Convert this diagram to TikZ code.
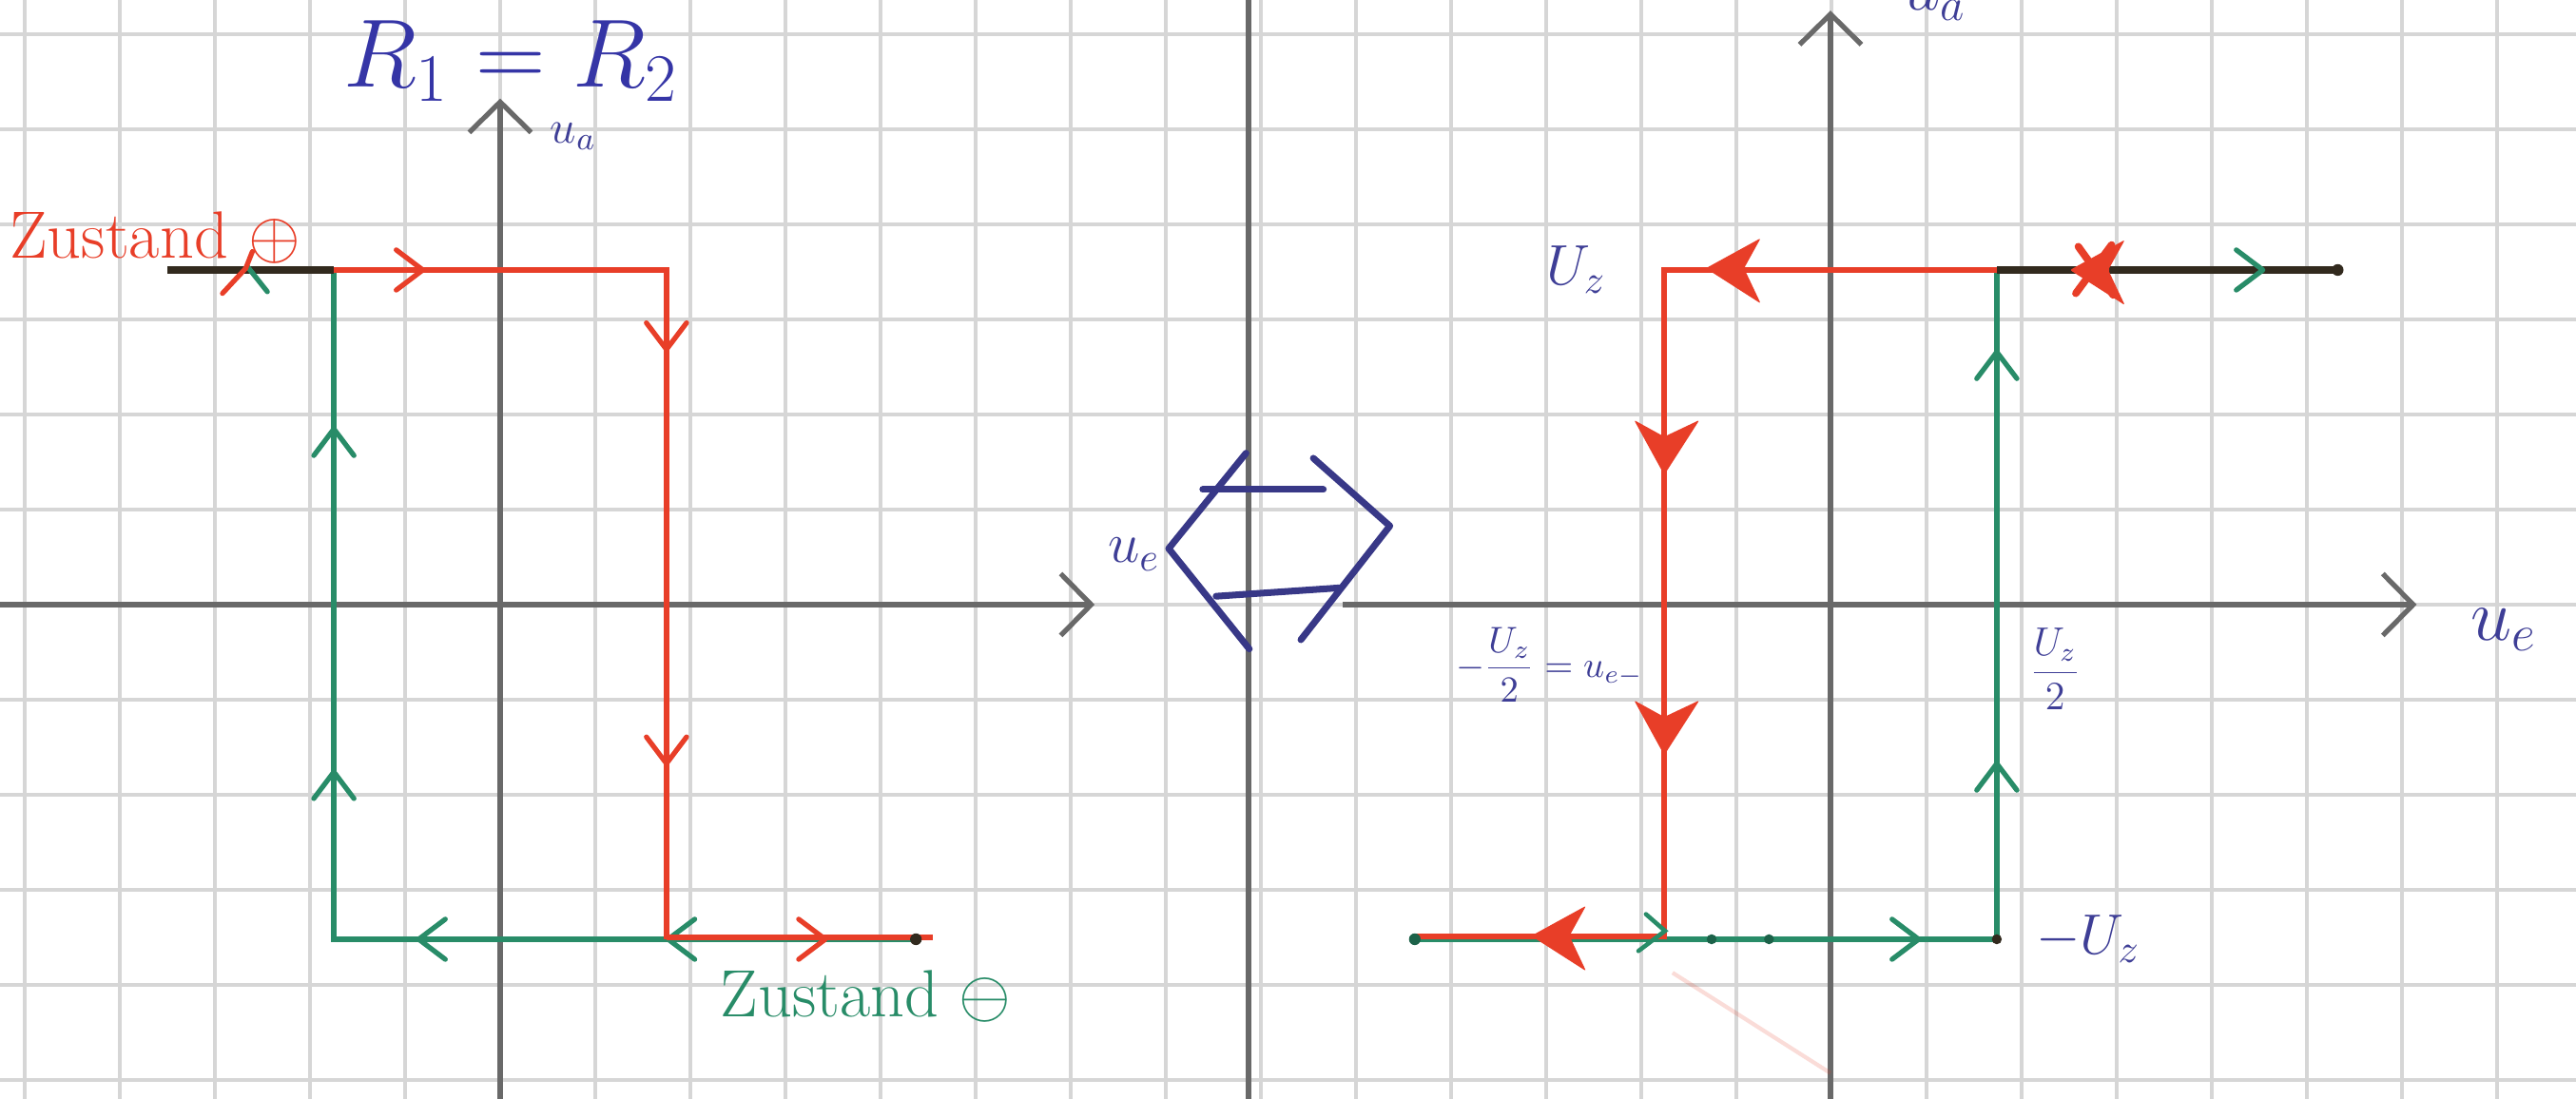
\RequirePackage{fix-cm}
\documentclass[tikz,border=0pt]{standalone}
\usepackage{amsmath}
\usetikzlibrary{arrows.meta}
\definecolor{gridc}{RGB}{214,214,214}
\definecolor{axisc}{RGB}{105,105,105}
\definecolor{redc}{RGB}{232,62,40}
\definecolor{greenc}{RGB}{40,140,104}
\definecolor{darkc}{RGB}{50,42,30}
\definecolor{bluec}{RGB}{62,62,150}
\tikzset{
  gridl/.style={draw=gridc,line width=1.1pt},
  axisl/.style={draw=axisc,line width=1.8pt},
  axarrow/.style={-{Straight Barb[length=3.2mm,width=6.5mm,line width=1.5pt]}},
  redl/.style={draw=redc,line width=1.7pt},
  greenl/.style={draw=greenc,line width=1.7pt},
  darkl/.style={draw=darkc,line width=2.1pt},
  lbl/.style={inner sep=0pt,text=bluec},
  chev/.pic={\draw[line width=1.5pt,line cap=round,line join=round] (-0.32,0.24) -- (0,0) -- (-0.32,-0.24);},
  blob/.pic={\fill[rounded corners=0.6pt] (0,0) -- (-0.66,0.42) -- (-0.46,0) -- (-0.66,-0.36) -- cycle;}
}
\begin{document}
\begin{tikzpicture}[x=0.8744cm,y=0.88cm]
\useasboundingbox (-6.0156,-5.909) rectangle (24.966,7.227);
\clip (-6.0156,-5.909) rectangle (24.966,7.227);
\fill[white] (-6.0156,-5.909) rectangle (24.966,7.227);
% grid
\draw[gridl] (-6.5,-6.5) grid (25.5,7.5);
% axes
\draw[axisl,axarrow] (-6.2,0) -- (7.15,0);
\draw[axisl,axarrow] (0,-6.2) -- (0,6.05);
\draw[axisl] (9,-6.2) -- (9,7.5);
\draw[axisl,axarrow] (10.13,0) -- (23.05,0);
\draw[axisl,axarrow] (16,-6.2) -- (16,7.1);
% ---------- left loop ----------
\coordinate (Lg0) at (5,-4);
\coordinate (Lg1) at (-2,-4);
\coordinate (Lg2) at (-2,4);
\coordinate (Lg3) at (-4,4);
\coordinate (Lr0) at (-4,4);
\coordinate (Lr1) at (2,4);
\coordinate (Lr2) at (2,-4);
\coordinate (Lr3) at (5.2,-4);
\draw[greenl] (Lg0) -- (Lg1) -- (Lg2) -- (Lg3);
\pic[color=greenc,rotate=180] at (2.02,-4) {chev};
\draw[redl] (Lr0) -- (Lr1) -- (Lr2) -- ([yshift=0.6pt]Lr2) -- ([yshift=0.6pt]Lr3);
\draw[darkl] (Lr0) -- (Lg2);
\fill[darkc] (5,-4) circle (0.07);
% left arrows
\pic[color=redc] at (-0.93,4) {chev};
\pic[color=redc,rotate=-90] at (2,3.05) {chev};
\pic[color=redc,rotate=-90] at (2,-1.9) {chev};
\pic[color=redc] at (3.91,-4) {chev};
\pic[color=greenc,rotate=180] at (-0.98,-4) {chev};
\pic[color=greenc,rotate=90] at (-2,2.1) {chev};
\pic[color=greenc,rotate=90] at (-2,-2.0) {chev};
\draw[greenc,line width=1.5pt,line cap=round] (-3.04,4.04) -- (-2.8,3.74);
\draw[redc,line width=1.5pt,line cap=round] (-3.34,3.72) -- (-3.06,4.02) -- (-2.98,4.22);
% ---------- right loop ----------
\coordinate (Rg0) at (11,-4);
\coordinate (Rg1) at (18,-4);
\coordinate (Rg2) at (18,4);
\coordinate (Rg3) at (22.1,4);
\coordinate (Rr0) at (22.1,4);
\coordinate (Rr1) at (14,4);
\coordinate (Rr2) at (14,-4);
\coordinate (Rr3) at (11,-4);
\draw[greenl] (Rg0) -- (Rg1) -- (Rg2) -- (Rg3);
\draw[redl] (Rr0) -- (Rr1) -- ([yshift=0.8pt]Rr2) -- ([yshift=0.8pt]Rr3);
\draw[darkl] (Rg2) -- (Rg3);
\fill[darkc] (Rg3) circle (0.07);
\fill[darkc] (Rg1) circle (0.06);
\fill[greenc!70!black] (14.57,-4) circle (0.06);
\fill[greenc!70!black] (15.26,-4) circle (0.06);
\fill[greenc!70!black] (11,-4) circle (0.07);
% right arrows
\pic[color=redc,rotate=180] at (14.5,4.02) {blob};
\pic[color=redc,rotate=180] at (18.88,4.0) {blob};
\draw[redc,line width=2.2pt,line cap=round] (18.95,3.72) -- (19.38,4.3);
\draw[redc,line width=2.2pt,line cap=round] (18.98,4.28) -- (19.4,3.7);
\pic[color=redc,rotate=-90] at (14,1.55) {blob};
\pic[color=redc,rotate=-90] at (14,-1.8) {blob};
\pic[color=redc,rotate=180] at (12.4,-3.96) {blob};
\pic[color=greenc] at (17.06,-4) {chev};
\pic[color=greenc,rotate=90] at (18,3.02) {chev};
\pic[color=greenc,rotate=90] at (18,-1.9) {chev};
\pic[color=greenc] at (21.2,4) {chev};
\draw[greenc,line width=1.3pt,line cap=round] (13.78,-3.7) -- (14.01,-3.9) -- (13.69,-4.14);
\draw[redc,opacity=0.18,line width=1.2pt] (14.1,-4.4) -- (16,-5.6);
% ---------- double arrow ----------
\coordinate (da1) at (8.97,1.81);
\coordinate (da2) at (8.04,0.67);
\coordinate (da3) at (9.01,-0.53);
\coordinate (db1) at (9.78,1.75);
\coordinate (db2) at (10.70,0.94);
\coordinate (db3) at (9.63,-0.42);
\draw[bluec!90!black,line width=2pt,line cap=round,line join=round] (da1) -- (da2) -- (da3);
\draw[bluec!90!black,line width=2pt,line cap=round,line join=round] (db1) -- (db2) -- (db3);
\coordinate (dl1) at (8.45,1.375);
\coordinate (dl2) at (9.90,1.375);
\coordinate (dl3) at (8.61,0.10);
\coordinate (dl4) at (10.09,0.20);
\draw[bluec!90!black,line width=2pt,line cap=round] (dl1) -- (dl2);
\draw[bluec!90!black,line width=2pt,line cap=round] (dl3) -- (dl4);
% ---------- labels ----------
\node[lbl,font=\fontsize{29}{31}\selectfont,text=bluec!85!blue] (rr) at (0.13,6.5) {$R_1 = R_2$};
\node[lbl,font=\fontsize{14}{16}\selectfont] (ua1) at (0.88,5.6) {$u_a$};
\node[lbl,font=\fontsize{17}{19}\selectfont] (ue1) at (7.62,0.6) {$u_e$};
\node[inner sep=0pt,text=redc,font=\fontsize{20}{22}\selectfont] (zp) at (-4.15,4.38) {Zustand $\oplus$};
\node[inner sep=0pt,text=greenc,font=\fontsize{20}{22}\selectfont] (zm) at (4.4,-4.68) {Zustand $\ominus$};
\node[lbl,anchor=south,font=\fontsize{20}{22}\selectfont] (ua2) at (17.25,6.98) {$u_a$};
\node[lbl,font=\fontsize{22}{24}\selectfont] (ue2) at (24.1,-0.3) {$u_e$};
\node[lbl,font=\fontsize{17}{19}\selectfont] (uz) at (12.94,4.0) {$U_z$};
\node[lbl,font=\fontsize{17}{19}\selectfont] (muz) at (19.1,-4.0) {$-U_z$};
\node[lbl,font=\fontsize{12}{14}\selectfont] (uz2) at (18.7,-0.77) {$\dfrac{U_z}{2}$};
\node[lbl,font=\fontsize{11}{13}\selectfont] (th) at (12.62,-0.72) {$-\dfrac{U_z}{2}=u_{e-}$};
\end{tikzpicture}
\end{document}
